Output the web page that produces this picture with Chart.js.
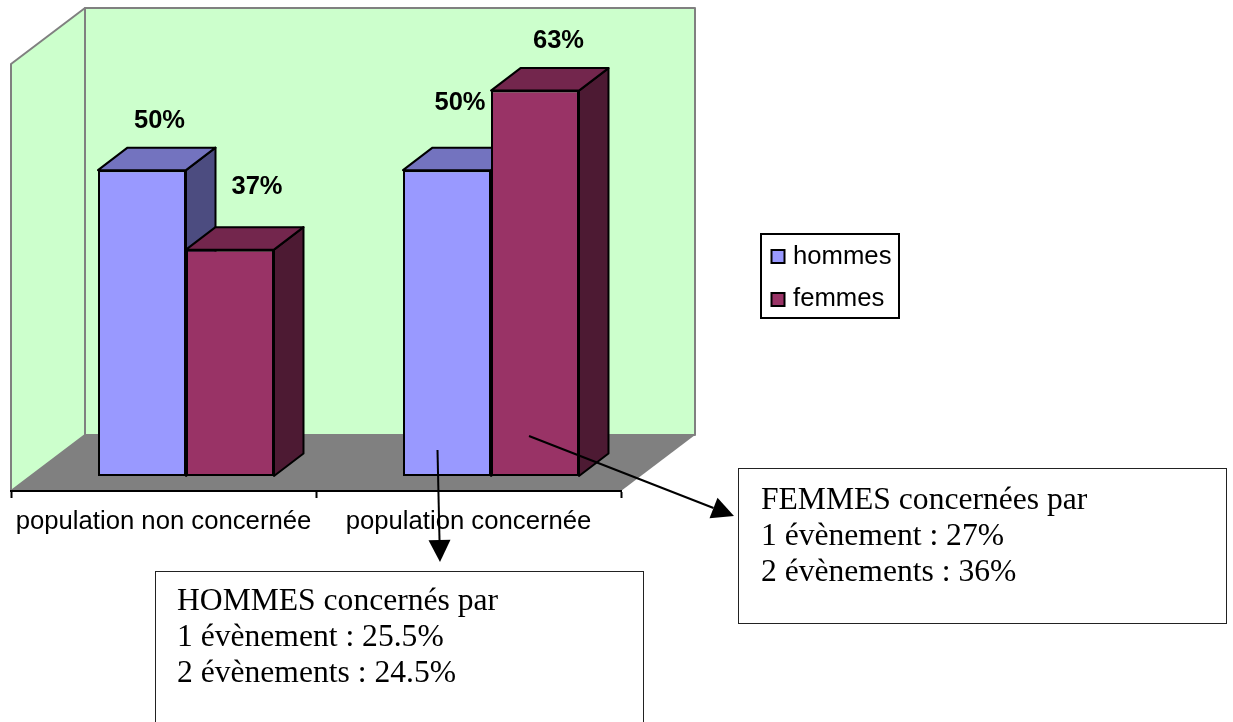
<!DOCTYPE html>
<html lang="fr">
<head>
<meta charset="utf-8">
<title>Population concernée</title>
<style>html,body{margin:0;padding:0;background:#fff;overflow:hidden}canvas{display:block}</style>
<script src="https://cdn.jsdelivr.net/npm/chart.js@4"></script>
</head>
<body>
<canvas id="c" width="1233" height="722"></canvas>
<script>
const categories = ['population non concernée', 'population concernée'];
const hommes = [50, 50];
const femmes = [37, 63];
const seriesNames = ['hommes', 'femmes'];
const yMax = 69.8;
const hommesNote = ['HOMMES concernés par', '1 évènement : 25.5%', '2 évènements : 24.5%'];
const femmesNote = ['FEMMES concernées par', '1 évènement : 27%', '2 évènements : 36%'];

const FRONT = {l: 11, r: 621, t: 64, b: 491};
const WALL = {dx: 74, dy: 56};
const BAR = {shiftX: 22.5, shiftY: -15, dx: 29.5, dy: 22.5};
const colors = {
  hommes: {front: '#9999FF', top: '#7373BF', side: '#4C4C80'},
  femmes: {front: '#993366', top: '#73264D', side: '#4D1A33'}
};
const labelOffsets = [
  [[17.5, -49], [13, -67]],
  [[27, -63], [23.5, -50]]
];

function poly(ctx, pts, fill, stroke, lw) {
  ctx.beginPath();
  pts.forEach((p, i) => i ? ctx.lineTo(p[0], p[1]) : ctx.moveTo(p[0], p[1]));
  ctx.closePath();
  if (fill) { ctx.fillStyle = fill; ctx.fill(); }
  if (stroke) { ctx.strokeStyle = stroke; ctx.lineWidth = lw; ctx.lineJoin = 'round'; ctx.stroke(); }
}
function arrow(ctx, x0, y0, x1, y1) {
  const a = Math.atan2(y1 - y0, x1 - x0), len = 22, hw = 11;
  const bx = x1 - len * Math.cos(a), by = y1 - len * Math.sin(a);
  ctx.beginPath(); ctx.moveTo(x0, y0); ctx.lineTo(bx, by);
  ctx.strokeStyle = '#000'; ctx.lineWidth = 2; ctx.stroke();
  poly(ctx, [[x1, y1], [bx - hw * Math.sin(a), by + hw * Math.cos(a)], [bx + hw * Math.sin(a), by - hw * Math.cos(a)]], '#000');
}
function noteBox(ctx, x, y, w, h, lines, tx, ty) {
  ctx.fillStyle = '#fff'; ctx.fillRect(x, y, w, h);
  ctx.strokeStyle = '#222'; ctx.lineWidth = 1; ctx.strokeRect(x + .5, y + .5, w, h);
  ctx.fillStyle = '#000'; ctx.font = '31.6px "Liberation Serif"';
  ctx.textAlign = 'left'; ctx.textBaseline = 'alphabetic';
  lines.forEach((s, i) => ctx.fillText(s, tx, ty + i * 36));
}

const scene = {
  id: 'scene',
  beforeDraw(chart) {
    const c = chart.ctx, f = FRONT, d = WALL;
    c.save();
    c.fillStyle = '#fff'; c.fillRect(0, 0, chart.width, chart.height);
    poly(c, [[f.l, f.t], [f.l + d.dx, f.t - d.dy], [f.l + d.dx, f.b - d.dy], [f.l, f.b]], '#CCFFCC', '#808080', 2);
    poly(c, [[f.l + d.dx, f.t - d.dy], [f.r + d.dx, f.t - d.dy], [f.r + d.dx, f.b - d.dy], [f.l + d.dx, f.b - d.dy]], '#CCFFCC', '#808080', 2);
    poly(c, [[f.l, f.b], [f.l + d.dx, f.b - d.dy], [f.r + d.dx, f.b - d.dy], [f.r, f.b]], '#808080');
    c.restore();
  },
  beforeDatasetsDraw(chart) {
    const c = chart.ctx;
    c.save();
    c.translate(BAR.shiftX, BAR.shiftY);
    const keys = ['hommes', 'femmes'];
    chart.data.datasets.forEach((ds, di) => {
      const col = colors[keys[di]];
      chart.getDatasetMeta(di).data.forEach(b => {
        const l = b.x - b.width / 2, r = b.x + b.width / 2, t = b.y, bt = b.base, dx = BAR.dx, dy = BAR.dy;
        poly(c, [[r, t], [r + dx, t - dy], [r + dx, bt - dy], [r, bt]], col.side, '#000', 2);
        poly(c, [[l, t], [l + dx, t - dy], [r + dx, t - dy], [r, t]], col.top, '#000', 2);
      });
    });
  },
  afterDatasetsDraw(chart) {
    chart.ctx.restore();
  },
  afterDraw(chart) {
    const c = chart.ctx;
    c.save();
    // value labels
    c.fillStyle = '#000'; c.font = 'bold 25.5px "Liberation Sans"';
    c.textAlign = 'center'; c.textBaseline = 'middle';
    chart.data.datasets.forEach((ds, di) => {
      chart.getDatasetMeta(di).data.forEach((b, i) => {
        const o = labelOffsets[di][i];
        c.fillText(ds.data[i] + '%', b.x + BAR.shiftX + o[0], b.y + BAR.shiftY + o[1]);
      });
    });
    // legend
    c.fillStyle = '#fff'; c.fillRect(761, 234, 138, 84);
    c.strokeStyle = '#000'; c.lineWidth = 2; c.strokeRect(761, 234, 138, 84);
    c.font = '25.7px "Liberation Sans"'; c.textAlign = 'left'; c.textBaseline = 'middle';
    chart.data.datasets.forEach((ds, i) => {
      c.fillStyle = ds.backgroundColor; c.fillRect(771.5, 250 + i * 43, 13, 13);
      c.strokeStyle = '#000'; c.lineWidth = 2; c.strokeRect(771.5, 250 + i * 43, 13, 13);
      c.fillStyle = '#000'; c.fillText(ds.label, 793, 257 + i * 42);
    });
    // notes and arrows
    noteBox(c, 155, 571, 488, 170, hommesNote, 177, 610);
    noteBox(c, 738, 468, 488, 155, femmesNote, 761, 509);
    arrow(c, 437.5, 450, 440, 562);
    arrow(c, 529, 436, 734, 516);
    c.restore();
  }
};

new Chart(document.getElementById('c'), {
  type: 'bar',
  data: {
    labels: categories,
    datasets: [
      {label: seriesNames[0], data: hommes, backgroundColor: colors.hommes.front},
      {label: seriesNames[1], data: femmes, backgroundColor: colors.femmes.front}
    ]
  },
  options: {
    responsive: false,
    devicePixelRatio: 1,
    animation: false,
    layout: {padding: {left: FRONT.l, right: 1233 - FRONT.r, top: FRONT.t, bottom: 0}},
    datasets: {bar: {
      barPercentage: 1, categoryPercentage: 0.577,
      borderColor: '#000', borderWidth: 2, borderSkipped: false, clip: false
    }},
    plugins: {legend: {display: false}, tooltip: {enabled: false}, title: {display: false}},
    scales: {
      x: {
        afterFit(s) { s.height = 722 - FRONT.b; },
        border: {display: true, color: '#000', width: 2},
        grid: {display: true, drawOnChartArea: false, drawTicks: true, tickLength: 7, tickColor: '#000', tickWidth: 2},
        ticks: {color: '#000', padding: 8, maxRotation: 0, autoSkip: false, font: {family: '"Liberation Sans"', size: 25.7}}
      },
      y: {display: false, min: 0, max: yMax}
    }
  },
  plugins: [scene]
});
</script>
</body>
</html>
